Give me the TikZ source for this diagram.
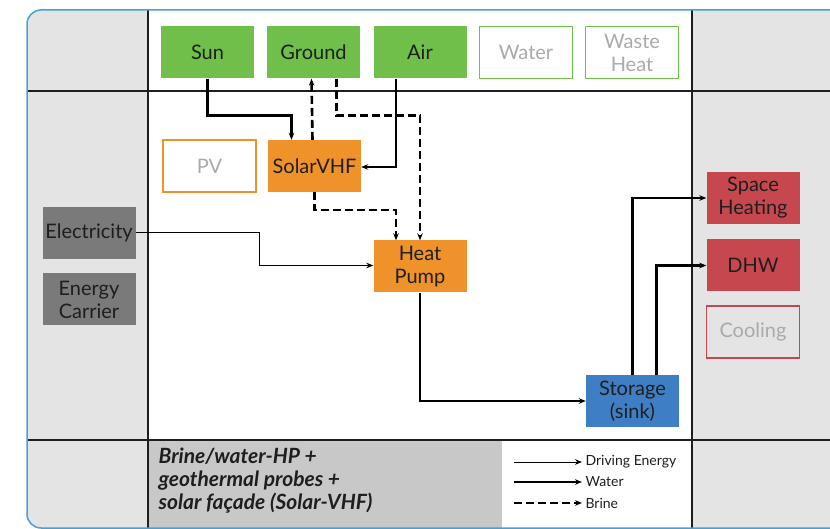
\documentclass[tikz,border=0pt]{standalone}
\usepackage{fontspec}
\setmainfont{Lato}
\usetikzlibrary{arrows.meta,positioning,calc}
\definecolor{frameBlue}{RGB}{75,160,210}
\definecolor{colGrey}{RGB}{228,228,228}
\definecolor{capGrey}{RGB}{200,200,200}
\definecolor{srcGreen}{RGB}{112,191,74}
\definecolor{hpOrange}{RGB}{240,146,42}
\definecolor{sinkRed}{RGB}{198,72,78}
\definecolor{storBlue}{RGB}{62,126,196}
\definecolor{carGrey}{RGB}{122,122,122}
\definecolor{fadeText}{RGB}{170,170,170}
\definecolor{inkDark}{RGB}{30,30,30}

\begin{document}
\begin{tikzpicture}[x=1pt, y=-1pt, >={Stealth[length=7pt,width=5.5pt]},
    every node/.style={font=\fontsize{20}{23}\selectfont, text=inkDark, align=center},
    box/.style={minimum width=93pt, minimum height=52pt, inner sep=0pt},
    src/.style={box, fill=srcGreen},
    srcoff/.style={box, draw=srcGreen, line width=1.3pt, fill=white, text=fadeText},
    conv/.style={box, fill=hpOrange},
    convoff/.style={box, draw=hpOrange, line width=1.3pt, fill=white, text=fadeText},
    sink/.style={box, fill=sinkRed},
    sinkoff/.style={box, draw=sinkRed, line width=1.3pt, fill=colGrey, text=fadeText},
    carrier/.style={box, fill=carGrey},
    drive/.style={->, line width=1pt},
    water/.style={->, line width=2.6pt},
    brine/.style={->, line width=2.6pt, dash pattern=on 8pt off 4pt},
    legtext/.style={anchor=west, font=\fontsize{14}{16}\selectfont},
    grid/.style={line width=1.6pt, inkDark}]
  \useasboundingbox (0,0) rectangle (830,529);
  \clip (0,0) rectangle (830,529);
  % frame and table
  \fill[colGrey, rounded corners=14pt] (27,10) rectangle (880,528);
  \fill[white] (148,10) rectangle (692,440);
  \fill[capGrey] (148,440) rectangle (502,528);
  \fill[white] (502,440) rectangle (692,528);
  \draw[grid] (27,91) -- (830,91);
  \draw[grid] (27,440) -- (830,440);
  \draw[grid] (148,10) -- (148,529);
  \draw[grid] (692,10) -- (692,529);
  \draw[frameBlue, line width=1.5pt, rounded corners=14pt] (27,10) rectangle (880,528);
  % sources
  \node[src] (sun) at (207.5,52.5) {Sun};
  \node[src] (ground) at (313.5,52.5) {Ground};
  \node[src] (air) at (420,52.5) {Air};
  \node[srcoff] (water) at (526,52.5) {Water};
  \node[srcoff] (waste) at (632,52.5) {Waste\\Heat};
  % converters
  \node[convoff] (pv) at (209.5,166) {PV};
  \node[conv] (solar) at (314.5,166) {SolarVHF};
  \node[conv] (hp) at (420,266.5) {Heat\\Pump};
  \node[box, fill=storBlue] (stor) at (632.5,401) {Storage\\(sink)};
  % energy carrier
  \node[carrier] (elec) at (89,233) {Electricity};
  \node[carrier] (carr) at (89,299.5) {Energy\\Carrier};
  % sinks
  \node[sink] (sh) at (753,198) {Space\\Heating};
  \node[sink] (dhw) at (753,265.5) {DHW};
  \node[sinkoff] (cool) at (753,332) {Cooling};
  % connections
  \draw[water] (sun.south) -- ++(0,37) -| ($(solar.north)+(-23,0)$);
  \draw[brine] ($(solar.north)+(-2,0)$) -- ($(ground.south)+(-2,0)$);
  \draw[brine] ($(ground.south)+(23,0)$) -- ++(0,37) -| (hp.north);
  \draw[water] ($(air.south)+(-24,0)$) |- ($(solar.east)+(0,1)$);
  \draw[brine] (solar.south) -- ++(0,18) -| ($(hp.north)+(-24,0)$);
  \draw[drive] (elec.east) -- ++(124,0) |- ($(hp.west)+(0,-1)$);
  \draw[water] (hp.south) |- (stor.west);
  \draw[water] (stor.north) |- (sh.west);
  \draw[water] ($(stor.north)+(24,0)$) |- (dhw.west);
  % caption
  \node[anchor=north west, align=left, font=\fontsize{21}{23}\bfseries\itshape] (cap) at (155,444)
    {Brine/water-HP +\\geothermal probes +\\solar façade (Solar-VHF)};
  % legend
  \coordinate (la) at (514,462);
  \coordinate (lb) at (514,482);
  \coordinate (lc) at (514,503);
  \node[legtext] (ldrive) at (582,462) {Driving Energy};
  \node[legtext] (lwater) at (582,482) {Water};
  \node[legtext] (lbrine) at (582,503) {Brine};
  \draw[drive] (la) -- (ldrive.west);
  \draw[water, line width=2pt] (lb) -- (lwater.west);
  \draw[brine, line width=2pt] (lc) -- (lbrine.west);
\end{tikzpicture}
\end{document}
